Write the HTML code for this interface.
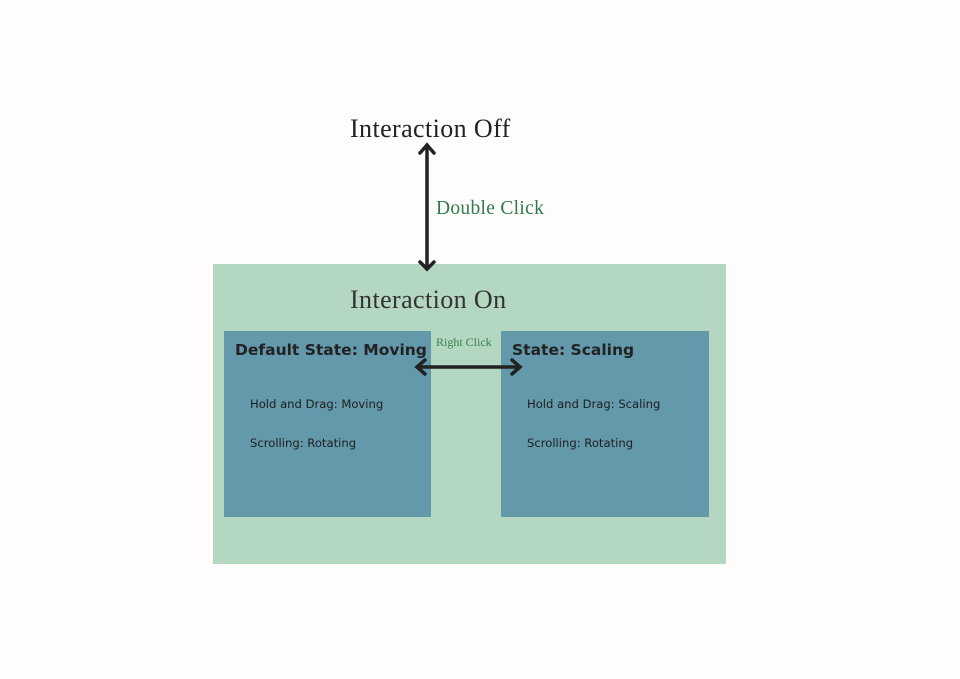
<!DOCTYPE html>
<html><head><meta charset="utf-8"><style>
body{margin:0;width:960px;height:679px;background:#fefdfc;position:relative;overflow:hidden}
div,span{position:absolute}
.serif{font-family:"Liberation Serif",serif}
.sans{font-family:"DejaVu Sans","Liberation Sans",sans-serif}
.b{background:#6399ab}
.h{font-family:"DejaVu Sans","Liberation Sans",sans-serif;font-weight:900;font-size:15.5px;color:#222;white-space:nowrap}
.t{font-size:11.6px;color:#1e1e1e;white-space:nowrap}
</style></head><body>
<div style="left:213px;top:264px;width:513px;height:300px;background:#b3d7c0"></div>
<div class="b" style="left:224px;top:331px;width:207px;height:186px"></div>
<div class="b" style="left:501px;top:331px;width:208px;height:186px"></div>
<span class="serif" style="left:350px;top:114px;font-size:26px;letter-spacing:0.4px;color:#222">Interaction Off</span>
<span class="serif" style="left:436px;top:198px;font-size:19.5px;letter-spacing:0.3px;color:#2e7a4a">Double Click</span>
<span class="serif" style="left:350px;top:285px;font-size:26px;letter-spacing:0.4px;color:#333">Interaction On</span>
<span class="serif" style="left:436px;top:335px;font-size:12px;color:#3a8050">Right Click</span>
<span class="h" style="left:235px;top:341px">Default State: Moving</span>
<span class="h" style="left:512px;top:341px">State: Scaling</span>
<span class="sans t" style="left:250px;top:397px">Hold and Drag: Moving</span>
<span class="sans t" style="left:250px;top:436px">Scrolling: Rotating</span>
<span class="sans t" style="left:527px;top:397px">Hold and Drag: Scaling</span>
<span class="sans t" style="left:527px;top:436px">Scrolling: Rotating</span>
<svg width="960" height="679" style="position:absolute;left:0;top:0">
<g stroke="#222" stroke-width="3.5" fill="none" stroke-linecap="round">
<line x1="427" y1="145" x2="427" y2="269"/>
<polyline points="420,153 427,145 434,153"/>
<polyline points="420,262 427,269 434,262"/>
<line x1="417" y1="367" x2="520" y2="367"/>
<polyline points="425,360 417,367 425,374"/>
<polyline points="512,360 520,367 512,374"/>
</g></svg>
</body></html>
